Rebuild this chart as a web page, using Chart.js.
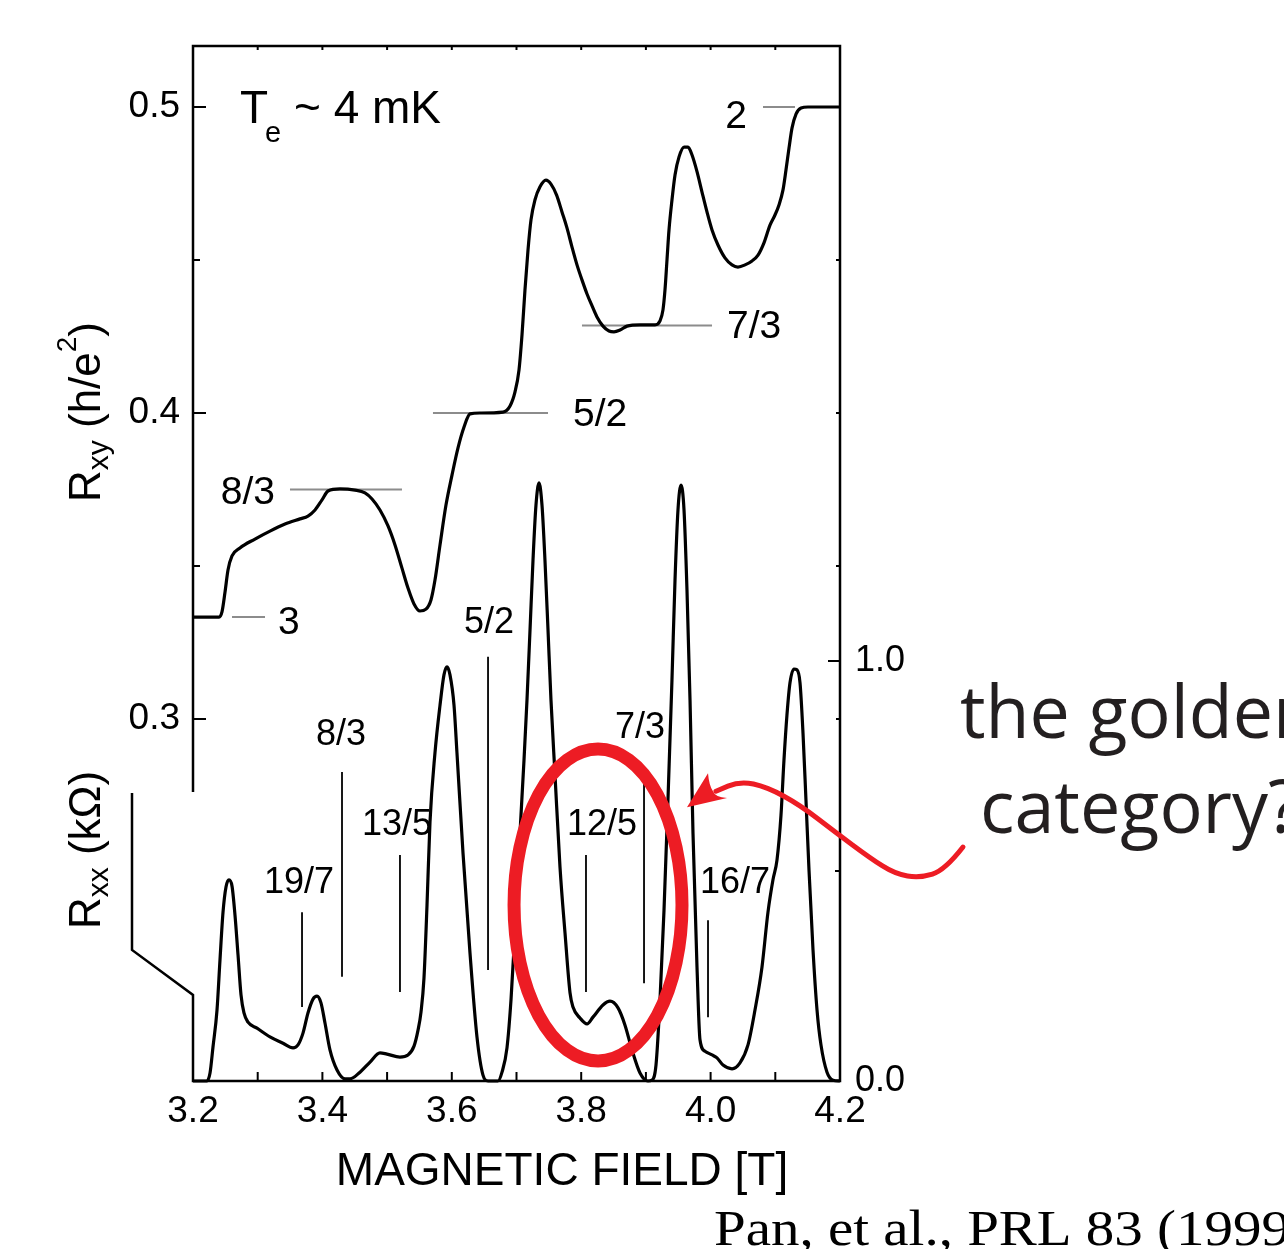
<!DOCTYPE html>
<html>
<head>
<meta charset="utf-8">
<script src="https://cdn.jsdelivr.net/npm/chart.js@4.4.1/dist/chart.umd.min.js"></script>
<style>
html,body{margin:0;padding:0;background:#fff;}
#wrap{position:relative;width:1284px;height:1249px;}
</style>
</head>
<body>
<div id="wrap"><canvas id="c"></canvas></div>
<script>
// ---------- data ----------
const xTickValues = [3.2, 3.4, 3.6, 3.8, 4.0, 4.2];
const xMinorTicks = [3.2, 3.3, 3.4, 3.5, 3.6, 3.7, 3.8, 3.9, 4.0, 4.1, 4.2];
const rxyTickValues = [0.3, 0.4, 0.5];
const rxyMinorTicks = [0.35, 0.45];
const rxxTickValues = [0.0, 1.0];
const rxxMinorTicks = [0.5];

// Hall resistance R_xy (h/e^2) vs field (T)
const rxyField = [3.2000,3.2402,3.2448,3.2495,3.2541,3.2603,3.2726,3.2958,3.3190,3.3422,3.3654,3.3777,3.3886,3.3994,3.4087,3.4272,3.4504,3.4658,3.4767,3.4890,3.5014,3.5122,3.5230,3.5323,3.5416,3.5508,3.5601,3.5678,3.5740,3.5818,3.5910,3.6003,3.6096,3.6189,3.6281,3.6436,3.6791,3.6900,3.6977,3.7039,3.7085,3.7131,3.7178,3.7224,3.7285,3.7363,3.7455,3.7533,3.7620,3.7703,3.7780,3.7858,3.7935,3.8012,3.8090,3.8168,3.8244,3.8337,3.8430,3.8507,3.8600,3.8709,3.8909,3.9141,3.9218,3.9264,3.9295,3.9326,3.9357,3.9403,3.9450,3.9512,3.9590,3.9651,3.9713,3.9791,3.9867,3.9944,4.0022,4.0114,4.0222,4.0331,4.0423,4.0532,4.0640,4.0733,4.0825,4.0918,4.0995,4.1057,4.1119,4.1165,4.1212,4.1258,4.1320,4.1398,4.1505,4.2000];
const rxyValue = [0.3333,0.3333,0.3350,0.3415,0.3487,0.3533,0.3559,0.3588,0.3614,0.3637,0.3654,0.3663,0.3683,0.3716,0.3745,0.3752,0.3748,0.3739,0.3719,0.3683,0.3631,0.3569,0.3493,0.3428,0.3376,0.3353,0.3359,0.3389,0.3454,0.3569,0.3699,0.3797,0.3886,0.3954,0.3997,0.4000,0.4003,0.4023,0.4069,0.4141,0.4255,0.4402,0.4533,0.4631,0.4696,0.4739,0.4761,0.4748,0.4712,0.4657,0.4605,0.4542,0.4484,0.4435,0.4389,0.4350,0.4314,0.4284,0.4268,0.4265,0.4271,0.4284,0.4288,0.4288,0.4301,0.4337,0.4402,0.4500,0.4598,0.4696,0.4778,0.4837,0.4869,0.4869,0.4843,0.4788,0.4722,0.4657,0.4598,0.4549,0.4507,0.4484,0.4477,0.4484,0.4497,0.4516,0.4556,0.4614,0.4647,0.4680,0.4729,0.4794,0.4866,0.4931,0.4977,0.4997,0.5000,0.5000];

// Longitudinal resistance R_xx (kOhm) vs field (T)
const rxxField = [3.2000,3.2216,3.2263,3.2309,3.2371,3.2417,3.2464,3.2510,3.2556,3.2603,3.2649,3.2696,3.2742,3.2788,3.2850,3.2989,3.3190,3.3391,3.3546,3.3623,3.3700,3.3777,3.3855,3.3917,3.3978,3.4040,3.4117,3.4226,3.4349,3.4427,3.4581,3.4736,3.4890,3.4998,3.5199,3.5323,3.5416,3.5478,3.5524,3.5570,3.5617,3.5663,3.5740,3.5818,3.5879,3.5926,3.5972,3.6034,3.6080,3.6173,3.6281,3.6389,3.6482,3.6560,3.6714,3.6776,3.6853,3.6915,3.6977,3.7054,3.7116,3.7162,3.7209,3.7255,3.7301,3.7348,3.7394,3.7440,3.7487,3.7533,3.7595,3.7672,3.7750,3.7827,3.7873,3.7981,3.8090,3.8182,3.8337,3.8445,3.8569,3.8677,3.8785,3.8909,3.9032,3.9094,3.9156,3.9218,3.9280,3.9341,3.9403,3.9450,3.9496,3.9543,3.9589,3.9635,3.9682,3.9728,3.9790,3.9836,3.9913,4.0022,4.0099,4.0192,4.0331,4.0454,4.0578,4.0686,4.0794,4.0887,4.0964,4.1026,4.1088,4.1134,4.1180,4.1227,4.1288,4.1335,4.1382,4.1428,4.1474,4.1521,4.1583,4.1645,4.1706,4.1799,4.1893,4.2000];
const rxxValue = [0.000,0.000,0.019,0.081,0.169,0.288,0.402,0.462,0.479,0.464,0.395,0.300,0.205,0.162,0.140,0.126,0.105,0.090,0.079,0.086,0.114,0.162,0.195,0.202,0.186,0.138,0.074,0.026,0.005,0.005,0.021,0.045,0.067,0.064,0.057,0.062,0.083,0.121,0.164,0.245,0.419,0.617,0.781,0.895,0.967,0.986,0.967,0.895,0.781,0.543,0.305,0.105,0.014,0.000,0.000,0.021,0.079,0.193,0.360,0.590,0.764,0.907,1.074,1.240,1.371,1.424,1.371,1.240,1.074,0.907,0.729,0.510,0.352,0.210,0.176,0.150,0.136,0.152,0.181,0.190,0.174,0.133,0.074,0.019,0.000,0.002,0.038,0.193,0.407,0.669,0.955,1.193,1.360,1.419,1.360,1.169,0.907,0.590,0.271,0.098,0.071,0.062,0.055,0.038,0.029,0.043,0.086,0.169,0.271,0.402,0.479,0.526,0.633,0.764,0.871,0.948,0.981,0.979,0.948,0.829,0.669,0.502,0.312,0.169,0.086,0.021,0.002,0.000];

// Hall plateaus (filling factor, R_xy value, extent of the guide line in T)
const plateauLabels = ['3', '8/3', '5/2', '7/3', '2'];
const plateauRxy = [0.3333, 0.375, 0.4, 0.4286, 0.5];
const plateauStart = [3.2603, 3.3499, 3.5709, 3.8012, 4.0810];
const plateauEnd = [3.3113, 3.5230, 3.7487, 4.0022, 4.1304];

// R_xx minima markers (filling factor, field, top / bottom of marker in kOhm)
const fracLabels = ['19/7', '8/3', '13/5', '5/2', '12/5', '7/3', '16/7'];
const fracField = [3.3685, 3.4303, 3.5199, 3.6560, 3.8074, 3.8971, 3.9960];
const fracTop = [0.402, 0.736, 0.538, 1.010, 0.538, 0.712, 0.383];
const fracBottom = [0.176, 0.248, 0.212, 0.264, 0.212, 0.233, 0.152];

// ---------- styling / layout ----------
const SANS = "'Liberation Sans', Arial, Helvetica, sans-serif";
const RED = '#ed1c24';
const plateauLabelStyle = [ ['right', 13, 3], ['left', 15, 1], ['right', 25, -1], ['right', 15, -1], ['left', 16, 7] ];
const fracLabelStyle = [ [-3, -32], [-1, -40], [-3, -33], [1, -37], [16, -33], [-4, -57], [27, -40] ];
// annotation geometry, in data units (field T, R_xx kOhm)
const ellipseSpec = { x: 3.8260, y: 0.419, rx: 0.1298, ry: 0.3714 };
const arrowShaft = [[4.3901,0.557],[4.3623,0.502],[4.3236,0.483],[4.2850,0.493],[4.2464,0.531],[4.1923,0.593],[4.1382,0.657],[4.0872,0.700],[4.0454,0.714],[4.0083,0.690]];
const arrowHead = [[3.9635,0.652],[3.9960,0.733],[4.0037,0.690],[4.0254,0.674]];
const leftAxisGap = [0.688, 0.205];   // R_xx range where the left frame is interrupted
const stub = { top: 0.686, bottom: 0.312, dx: -61 };

// ---------- datasets ----------
const datasets = [];
datasets.push({
  label: 'Rxx', yAxisID: 'y2', showLine: true, order: 0,
  data: rxxField.map((f, i) => ({ x: f, y: rxxValue[i] })),
  borderColor: '#000', borderWidth: 3.2, pointRadius: 0, cubicInterpolationMode: 'monotone', fill: false, clip: false
});
datasets.push({
  label: 'Rxy', yAxisID: 'y', showLine: true, order: 0,
  data: rxyField.map((f, i) => ({ x: f, y: rxyValue[i] })),
  borderColor: '#000', borderWidth: 3.2, pointRadius: 0, cubicInterpolationMode: 'monotone', fill: false, clip: false
});
plateauLabels.forEach((l, i) => datasets.push({
  label: 'plateau ' + l, yAxisID: 'y', showLine: true, order: 5,
  data: [{ x: plateauStart[i], y: plateauRxy[i] }, { x: plateauEnd[i], y: plateauRxy[i] }],
  borderColor: '#8c8c8c', borderWidth: 2, pointRadius: 0, tension: 0, clip: false
}));
fracLabels.forEach((l, i) => datasets.push({
  label: 'nu ' + l, yAxisID: 'y2', showLine: true, order: 3,
  data: [{ x: fracField[i], y: fracTop[i] }, { x: fracField[i], y: fracBottom[i] }],
  borderColor: '#000', borderWidth: 1.8, pointRadius: 0, tension: 0, clip: false
}));

// ---------- helpers ----------
function drawRich(ctx, parts, x, y, align) {
  let w = 0;
  parts.forEach(p => { ctx.font = p[1] + 'px ' + (p[3] || SANS); p.w = ctx.measureText(p[0]).width + (p[4] || 0); w += p.w; });
  let cx = align === 'center' ? x - w / 2 : (align === 'right' ? x - w : x);
  parts.forEach(p => { ctx.font = p[1] + 'px ' + (p[3] || SANS); ctx.fillText(p[0], cx, y + (p[2] || 0)); cx += p.w; });
}
function fitText(ctx, text, x, y, targetW) {
  const m = ctx.measureText(text).width;
  ctx.save(); ctx.translate(x, y); ctx.scale(targetW / m, 1); ctx.fillText(text, 0, 0); ctx.restore();
}

const decor = {
  id: 'decor',
  afterDatasetsDraw(chart) {
    const { ctx, chartArea: a, scales } = chart;
    const X = scales.x, Y = scales.y, Y2 = scales.y2;
    ctx.save();
    ctx.strokeStyle = '#000'; ctx.fillStyle = '#000';
    // frame
    ctx.lineWidth = 2.5;
    ctx.beginPath();
    ctx.moveTo(a.left, Y2.getPixelForValue(leftAxisGap[0]));
    ctx.lineTo(a.left, a.top); ctx.lineTo(a.right, a.top); ctx.lineTo(a.right, a.bottom); ctx.lineTo(a.left, a.bottom);
    ctx.lineTo(a.left, Y2.getPixelForValue(leftAxisGap[1]));
    ctx.lineTo(a.left + stub.dx, Y2.getPixelForValue(stub.bottom));
    ctx.lineTo(a.left + stub.dx, Y2.getPixelForValue(stub.top));
    ctx.stroke();
    // x ticks
    ctx.lineWidth = 2;
    xMinorTicks.forEach(v => {
      const p = X.getPixelForValue(v);
      ctx.beginPath(); ctx.moveTo(p, a.bottom); ctx.lineTo(p, a.bottom - 9); ctx.stroke();
      ctx.beginPath(); ctx.moveTo(p, a.top); ctx.lineTo(p, a.top + 4); ctx.stroke();
    });
    // left / right Rxy ticks
    rxyTickValues.forEach(v => {
      const p = Y.getPixelForValue(v);
      ctx.beginPath(); ctx.moveTo(a.left, p); ctx.lineTo(a.left + 13, p); ctx.stroke();
      ctx.beginPath(); ctx.moveTo(a.right, p); ctx.lineTo(a.right - 4, p); ctx.stroke();
    });
    rxyMinorTicks.forEach(v => {
      const p = Y.getPixelForValue(v);
      ctx.beginPath(); ctx.moveTo(a.left, p); ctx.lineTo(a.left + 7, p); ctx.stroke();
      ctx.beginPath(); ctx.moveTo(a.right, p); ctx.lineTo(a.right - 4, p); ctx.stroke();
    });
    // right Rxx ticks
    rxxTickValues.forEach(v => {
      const p = Y2.getPixelForValue(v);
      ctx.beginPath(); ctx.moveTo(a.right, p); ctx.lineTo(a.right - 12, p); ctx.stroke();
    });
    rxxMinorTicks.forEach(v => {
      const p = Y2.getPixelForValue(v);
      ctx.beginPath(); ctx.moveTo(a.right, p); ctx.lineTo(a.right - 5, p); ctx.stroke();
    });

    // plateau labels
    ctx.font = '39px ' + SANS; ctx.textBaseline = 'alphabetic';
    plateauLabels.forEach((l, i) => {
      const st = plateauLabelStyle[i];
      const py = Y.getPixelForValue(plateauRxy[i]) + 14 + st[2];
      if (st[0] === 'right') { ctx.textAlign = 'left'; ctx.fillText(l, X.getPixelForValue(plateauEnd[i]) + st[1], py); }
      else { ctx.textAlign = 'right'; ctx.fillText(l, X.getPixelForValue(plateauStart[i]) - st[1], py); }
    });
    // Rxx marker labels
    ctx.font = '36px ' + SANS;
    ctx.textAlign = 'center';
    fracLabels.forEach((l, i) => {
      const st = fracLabelStyle[i];
      ctx.fillText(l, X.getPixelForValue(fracField[i]) + st[0], Y2.getPixelForValue(fracTop[i]) + st[1] + 13);
    });

    // T_e ~ 4 mK
    ctx.textAlign = 'left';
    drawRich(ctx, [['T', 46, 0, null, -3], ['e', 29, 19], [' ~ 4 mK', 46, 0]], a.left + 47, a.top + 77, 'left');

    // axis titles
    ctx.save();
    ctx.translate(100, 412); ctx.rotate(-Math.PI / 2);
    drawRich(ctx, [['R', 44, 0], ['xy', 30, 8], [' (h/e', 44, 0], ['2', 28, -24], [')', 44, 0]], 0, 0, 'center');
    ctx.restore();
    ctx.save();
    ctx.translate(100, 850); ctx.rotate(-Math.PI / 2);
    drawRich(ctx, [['R', 44, 0], ['xx', 30, 8], [' (k\u03A9)', 44, 0]], 0, 0, 'center');
    ctx.restore();
    ctx.textAlign = 'center';
    ctx.font = '46px ' + SANS;
    ctx.fillText('MAGNETIC FIELD [T]', 562, 1185);

    // citation
    ctx.textAlign = 'left';
    ctx.font = '50px "Liberation Serif", "Times New Roman", serif';
    fitText(ctx, 'Pan, et al., PRL 83 (1999)', 714, 1245, 576 * ctx.measureText('Pan, et al., PRL 83 (1999)').width / ctx.measureText('Pan, et al., PRL 83 (1999').width);

    // red annotation: ellipse
    ctx.strokeStyle = RED; ctx.fillStyle = RED;
    const ecx = X.getPixelForValue(ellipseSpec.x), ecy = Y2.getPixelForValue(ellipseSpec.y);
    const erx = X.getPixelForValue(ellipseSpec.x + ellipseSpec.rx) - ecx;
    const ery = ecy - Y2.getPixelForValue(ellipseSpec.y + ellipseSpec.ry);
    ctx.lineWidth = 13;
    ctx.beginPath(); ctx.ellipse(ecx, ecy, erx, ery, 0, 0, Math.PI * 2); ctx.stroke();
    // arrow
    const pts = arrowShaft.map(p => [X.getPixelForValue(p[0]), Y2.getPixelForValue(p[1])]);
    ctx.lineWidth = 5; ctx.lineCap = 'round'; ctx.lineJoin = 'round';
    ctx.beginPath(); ctx.moveTo(pts[0][0], pts[0][1]);
    for (let i = 1; i < pts.length - 1; i++) {
      const mx = (pts[i][0] + pts[i + 1][0]) / 2, my = (pts[i][1] + pts[i + 1][1]) / 2;
      ctx.quadraticCurveTo(pts[i][0], pts[i][1], mx, my);
    }
    ctx.lineTo(pts[pts.length - 1][0], pts[pts.length - 1][1]);
    ctx.stroke();
    const hp = arrowHead.map(p => [X.getPixelForValue(p[0]), Y2.getPixelForValue(p[1])]);
    ctx.beginPath(); ctx.moveTo(hp[0][0], hp[0][1]);
    ctx.lineTo(hp[1][0], hp[1][1]);
    ctx.quadraticCurveTo(hp[2][0] - 4, hp[2][1] - 6, hp[2][0], hp[2][1]);
    ctx.quadraticCurveTo(hp[2][0] + 2, hp[2][1] + 6, hp[3][0], hp[3][1]);
    ctx.closePath(); ctx.fill();

    // "the golden category?"
    ctx.fillStyle = '#231f20'; ctx.textAlign = 'left';
    ctx.font = '74px "Open Sans", "Noto Sans", sans-serif';
    fitText(ctx, 'the golden', 960, 738, 313 * ctx.measureText('the golden').width / ctx.measureText('the golde').width);
    fitText(ctx, 'category?', 980, 833, 288 * ctx.measureText('category?').width / ctx.measureText('category').width);
    ctx.restore();
  }
};

new Chart(document.getElementById('c'), {
  type: 'scatter',
  data: { datasets },
  options: {
    responsive: true, maintainAspectRatio: false, animation: false, devicePixelRatio: 1,
    layout: { padding: { top: 46, left: 0, right: 0, bottom: 0 } },
    plugins: { legend: { display: false }, tooltip: { enabled: false } },
    scales: {
      x: {
        type: 'linear', position: 'bottom', min: 3.2, max: 4.2,
        grid: { display: false, drawTicks: false }, border: { display: false },
        ticks: { color: '#000', font: { family: SANS, size: 37 }, padding: 9, maxRotation: 0, autoSkip: false, callback: v => Number(v).toFixed(1) },
        afterBuildTicks: s => { s.ticks = xTickValues.map(v => ({ value: v })); },
        afterFit: s => { s.height = 168; }
      },
      y: {
        type: 'linear', position: 'left', min: 0.18170, max: 0.51993,
        grid: { display: false, drawTicks: false }, border: { display: false },
        ticks: { color: '#000', font: { family: SANS, size: 37 }, padding: 13, callback: v => Number(v).toFixed(1) },
        afterBuildTicks: s => { s.ticks = rxyTickValues.map(v => ({ value: v })); },
        afterFit: s => { s.width = 193; }
      },
      y2: {
        type: 'linear', position: 'right', min: 0, max: 2.4643,
        grid: { display: false, drawTicks: false }, border: { display: false },
        ticks: { color: '#000', font: { family: SANS, size: 36 }, padding: 15, callback: v => Number(v).toFixed(1) },
        afterBuildTicks: s => { s.ticks = rxxTickValues.map(v => ({ value: v })); },
        afterFit: s => { s.width = 444; }
      }
    }
  },
  plugins: [decor]
});
</script>
</body>
</html>
